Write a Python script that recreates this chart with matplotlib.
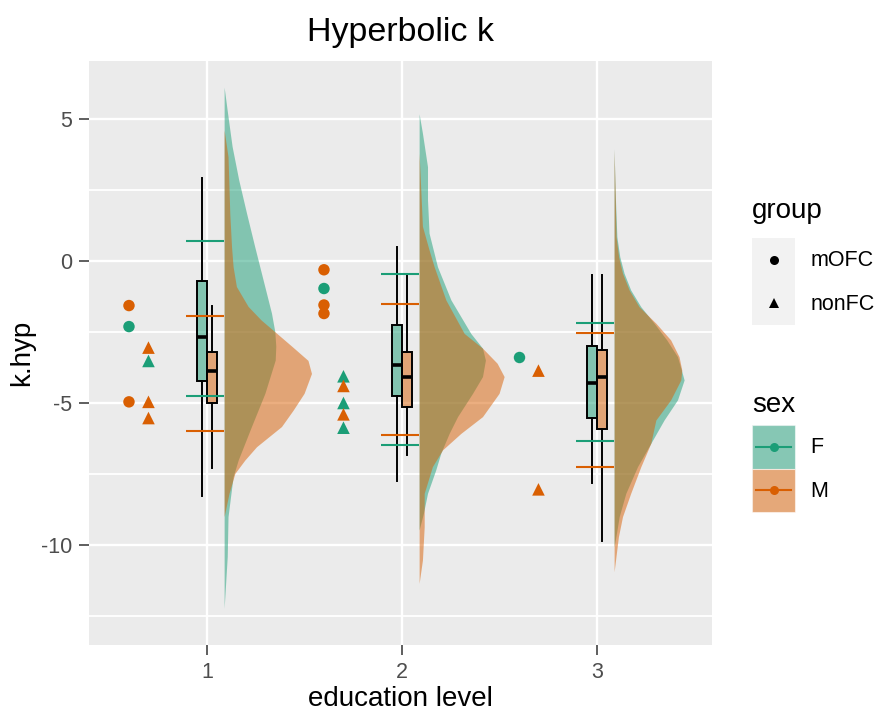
import matplotlib
matplotlib.use("Agg")
import matplotlib.pyplot as plt
from matplotlib.patches import Rectangle
from matplotlib.lines import Line2D
from matplotlib.legend_handler import HandlerBase

plt.rcParams['font.family'] = ['Liberation Sans', 'DejaVu Sans']
plt.rcParams['axes.unicode_minus'] = False

levels = [1, 2, 3]
col = {"F": "#1B9E77", "M": "#D95F02"}

# raw points (mOFC = circles, nonFC = triangles)
mofc_sex = [["M", "F", "M"], ["M", "F", "M", "M"], ["F"]]
mofc_k = [[-1.57, -2.31, -4.96], [-0.31, -0.97, -1.55, -1.85], [-3.39]]
nonfc_sex = [["M", "F", "M", "M"], ["F", "M", "F", "M", "F"], ["M", "M"]]
nonfc_k = [[-3.05, -3.52, -4.96, -5.53], [-4.06, -4.40, -5.00, -5.40, -5.87], [-3.86, -8.04]]

# mean +/- sd lines
band_hi = {"F": [0.69, -0.45, -2.20], "M": [-1.92, -1.51, -2.53]}
band_lo = {"F": [-4.74, -6.47, -6.34], "M": [-6.00, -6.13, -7.27]}

# boxplot stats per level
whislo = {"F": [-8.29, -7.75, -7.83], "M": [-7.29, -6.82, -9.86]}
q1 = {"F": [-4.21, -4.74, -5.53], "M": [-5.00, -5.13, -5.93]}
med = {"F": [-2.68, -3.68, -4.30], "M": [-3.89, -4.08, -4.08]}
q3 = {"F": [-0.72, -2.25, -2.99], "M": [-3.20, -3.20, -3.12]}
whishi = {"F": [2.93, 0.50, -0.50], "M": [-1.57, -0.46, -0.50]}

# half-density outlines (k value, width)
dens_k = {
    "F": [[6.12, 5.08, 4.03, 2.85, 1.68, 0.50, -0.67, -1.84, -2.49, -3.0, -3.49, -4.66, -5.83, -7.01, -7.6, -8.18, -9.0, -10.4, -12.23],
          [5.18, 4.50, 3.32, 2.15, 0.98, -0.2, -1.37, -2.55, -3.07, -3.49, -4.07, -4.66, -5.48, -6.07, -6.77, -7.36, -8.18, -8.88, -9.47],
          [3.97, 2.5, 0.86, 0.15, -0.43, -1.02, -1.61, -2.19, -2.78, -3.37, -3.84, -4.19, -4.89, -5.6, -6.42, -7.24, -8.18, -9.0, -9.71, -10.06]],
    "M": [[4.61, 3.67, 1.68, 0.50, -0.2, -0.9, -1.6, -2.08, -2.49, -3.02, -3.5, -3.96, -4.66, -5.25, -5.83, -6.54, -7.01, -7.48, -8.18, -9.0],
          [3.79, 1.22, 0.39, -0.2, -1.37, -2.55, -3.07, -3.6, -4.07, -4.66, -5.48, -6.07, -6.65, -7.24, -8.18, -9.36, -10.53, -11.35],
          [3.93, 2.5, 0.86, 0.15, -0.43, -1.02, -1.61, -2.19, -2.78, -3.37, -3.84, -4.19, -4.89, -5.6, -6.42, -7.24, -8.18, -9.0, -9.71, -10.94]],
}
dens_w = {
    "F": [[0.0, 0.02, 0.041, 0.075, 0.115, 0.157, 0.2, 0.243, 0.26, 0.265, 0.262, 0.209, 0.14, 0.072, 0.046, 0.035, 0.02, 0.016, 0.0],
          [0.0, 0.017, 0.043, 0.043, 0.051, 0.094, 0.163, 0.265, 0.325, 0.34, 0.325, 0.274, 0.197, 0.154, 0.111, 0.085, 0.043, 0.022, 0.0],
          [0.0, 0.005, 0.014, 0.029, 0.051, 0.085, 0.137, 0.205, 0.27, 0.325, 0.345, 0.359, 0.325, 0.256, 0.188, 0.12, 0.06, 0.026, 0.009, 0.0]],
    "M": [[0.0, 0.02, 0.029, 0.038, 0.046, 0.063, 0.123, 0.19, 0.26, 0.35, 0.43, 0.448, 0.41, 0.354, 0.294, 0.166, 0.106, 0.055, 0.025, 0.0],
          [0.0, 0.017, 0.051, 0.077, 0.137, 0.231, 0.325, 0.40, 0.436, 0.41, 0.325, 0.214, 0.12, 0.068, 0.026, 0.026, 0.017, 0.0],
          [0.0, 0.005, 0.01, 0.023, 0.043, 0.077, 0.128, 0.214, 0.29, 0.333, 0.347, 0.342, 0.29, 0.214, 0.188, 0.137, 0.085, 0.043, 0.022, 0.0]],
}

fig = plt.figure(figsize=(8.79, 7.13), dpi=100)
ax = fig.add_axes([89 / 879, 1 - 645 / 713, 623 / 879, 584 / 713])
ax.set_facecolor("#EBEBEB")
for s in ax.spines.values():
    s.set_visible(False)
ax.set_axisbelow(True)

ax.set_xlim(0.395, 3.59)
ax.set_ylim(-13.52, 7.04)
ax.set_xticks(levels)
ax.set_yticks([5, 0, -5, -10])
ax.set_yticks([2.5, -2.5, -7.5, -12.5], minor=True)
ax.grid(which="major", color="white", lw=1.7)
ax.grid(which="minor", axis="y", color="white", lw=1.3)
ax.tick_params(which="major", length=7, width=1.1, color="#333333", labelcolor="#4D4D4D",
               labelsize=15.5, pad=5)
ax.tick_params(which="minor", length=0)

# densities
for s in ["F", "M"]:
    for i, lv in enumerate(levels):
        ax.fill_betweenx(dens_k[s][i], lv + 0.088, [lv + 0.088 + w for w in dens_w[s][i]],
                         color=col[s], alpha=0.5, lw=0, zorder=2)

# points
for i, lv in enumerate(levels):
    ax.scatter([lv - 0.40] * len(mofc_k[i]), mofc_k[i], c=[col[s] for s in mofc_sex[i]],
               marker="o", s=68, lw=0, zorder=3)
    ax.scatter([lv - 0.30] * len(nonfc_k[i]), nonfc_k[i], c=[col[s] for s in nonfc_sex[i]],
               marker="^", s=82, lw=0, zorder=3)

# boxplots
for s, off in [("F", -0.027), ("M", 0.024)]:
    stats = [dict(med=med[s][i], q1=q1[s][i], q3=q3[s][i], whislo=whislo[s][i],
                  whishi=whishi[s][i], fliers=[]) for i in range(3)]
    ax.bxp(stats, positions=[lv + off for lv in levels], widths=0.05, patch_artist=True,
           showcaps=False, manage_ticks=False,
           boxprops=dict(facecolor=col[s] + "80", edgecolor="black", lw=1.4),
           medianprops=dict(color="black", lw=2.6),
           whiskerprops=dict(color="black", lw=1.4), zorder=4)

# mean +/- sd lines
for s in ["F", "M"]:
    for i, lv in enumerate(levels):
        ax.hlines([band_hi[s][i], band_lo[s][i]], lv - 0.105, lv + 0.088, color=col[s], lw=1.5, zorder=5)

fig.text(401 / 879, 1 - 41 / 713, "Hyperbolic k", ha="center", va="baseline", fontsize=24.5)
ax.set_xlabel("education level", fontsize=20)
ax.set_ylabel("k.hyp", fontsize=20)
ax.xaxis.set_label_coords(0.5, -0.0702)
ax.yaxis.set_label_coords(-0.0867, 0.5)


class KeyHandler(HandlerBase):
    def __init__(self, marker, color, fill=None, ms=7):
        super().__init__()
        self.marker, self.color, self.fill, self.ms = marker, color, fill, ms

    def create_artists(self, legend, orig_handle, xdescent, ydescent, width, height, fontsize, trans):
        x0, y0 = -xdescent, -ydescent
        arts = [Rectangle((x0, y0), width, height, facecolor="#F2F2F2", edgecolor="none", transform=trans)]
        if self.fill:
            arts.append(Rectangle((x0, y0), width, height, facecolor=self.fill, alpha=0.5,
                                  edgecolor="white", lw=0.8, transform=trans))
            arts.append(Line2D([x0 + 3, x0 + width - 3], [y0 + height / 2] * 2, color=self.color,
                               lw=1.5, transform=trans))
        arts.append(Line2D([x0 + width / 2], [y0 + height / 2], marker=self.marker, color=self.color,
                           ms=self.ms, ls="none", mew=0, transform=trans))
        return arts


h_grp = [Line2D([], []), Line2D([], [])]
h_sex = [Line2D([], []), Line2D([], [])]
hmap = {h_grp[0]: KeyHandler("o", "black", ms=6.5), h_grp[1]: KeyHandler("^", "black", ms=7),
        h_sex[0]: KeyHandler("o", col["F"], fill=col["F"], ms=6.5),
        h_sex[1]: KeyHandler("o", col["M"], fill=col["M"], ms=6.5)}
common = dict(loc="upper left", frameon=False, borderpad=0, borderaxespad=0, labelspacing=0,
              handlelength=2.0, handleheight=2.735, handletextpad=0.7, fontsize=15.5, handler_map=hmap)
fig.legend(h_grp, ["mOFC", "nonFC"], bbox_to_anchor=(752 / 879, 1 - 238 / 713), **common)
fig.legend(h_sex, ["F", "M"], bbox_to_anchor=(752 / 879, 1 - 425 / 713), **common)
fig.text(752 / 879, 1 - 218 / 713, "group", ha="left", va="baseline", fontsize=20)
fig.text(752 / 879, 1 - 412 / 713, "sex", ha="left", va="baseline", fontsize=20)

fig.savefig("out.png", dpi=100)
